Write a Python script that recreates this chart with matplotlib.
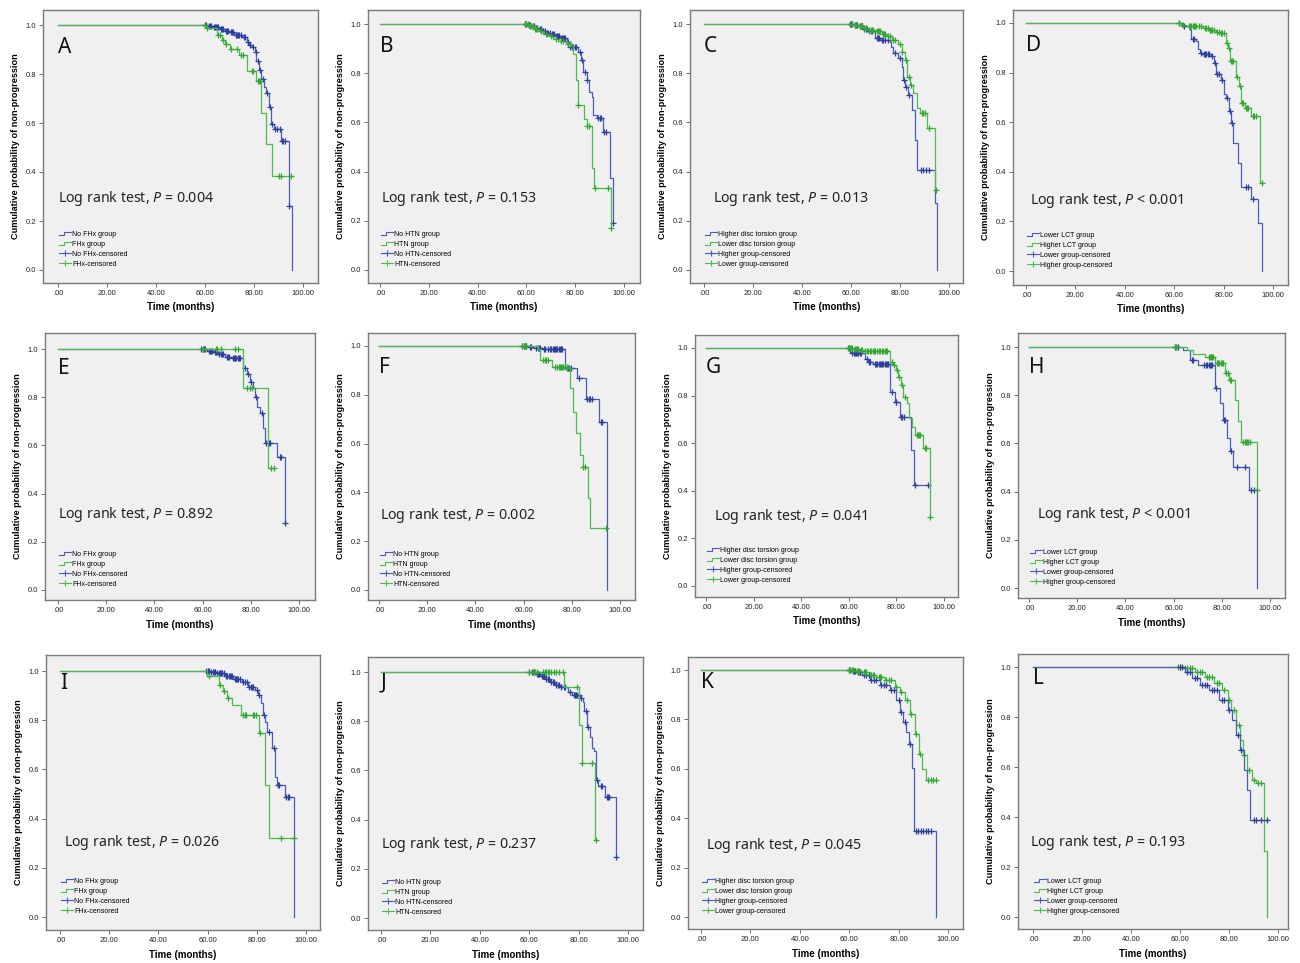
import numpy as np
import matplotlib
matplotlib.use("Agg")
import matplotlib.pyplot as plt
from matplotlib.lines import Line2D
from matplotlib.legend_handler import HandlerBase

plt.rcParams['font.family'] = ['Liberation Sans', 'DejaVu Sans']
plt.rcParams['mathtext.fontset'] = 'custom'
plt.rcParams['mathtext.it'] = 'Noto Sans:italic'

# ---- data: event times / survival after each drop / censor times ----
# A  (family history)
A_blue_t = [61, 63, 66, 68, 70, 72, 75, 77, 78, 79, 80.3, 81, 82, 83, 84, 85, 86.1, 87, 88, 91, 94.3, 95.6]
A_blue_s = [0.995, 0.99, 0.985, 0.975, 0.97, 0.96, 0.95, 0.93, 0.92, 0.91, 0.888, 0.855, 0.818, 0.78, 0.748,
            0.724, 0.664, 0.596, 0.575, 0.528, 0.263, 0.0]
A_blue_c = [60, 60.5, 61.5, 62, 62.5, 63.5, 64, 64.5, 65, 65.5, 66.5, 67, 67.5, 68.5, 69, 69.5, 70.5, 71, 71.5,
            72.5, 73, 73.5, 74, 74.5, 76, 76.5, 77.5, 78.5, 79.5, 80.8, 81.5, 82.5, 83.5, 85.5, 86.5, 87.5, 88.5,
            89.5, 90.5, 91.5, 92, 92.5, 94.3]
A_green_t = [60.5, 65, 67, 68, 70, 74, 77, 81, 83, 85, 87.3]
A_green_s = [0.989, 0.959, 0.94, 0.922, 0.902, 0.878, 0.814, 0.773, 0.641, 0.514, 0.385]
A_green_c = [60, 61, 65.5, 66, 67.5, 68.5, 70.5, 73, 74.5, 75.5, 79, 79.5, 81.5, 82, 82.5, 90, 91, 95]

# B  (hypertension)
B_blue_t = [60.5, 62, 63.5, 65, 66.5, 68, 70, 72, 74, 76.5, 77.9, 81.3, 82.2, 83.3, 84.7, 85.7, 86.7, 87.4,
            88.8, 91.5, 94.3, 95.4]
B_blue_s = [0.995, 0.99, 0.985, 0.978, 0.972, 0.965, 0.96, 0.953, 0.945, 0.928, 0.908, 0.887, 0.854, 0.806,
            0.772, 0.725, 0.702, 0.63, 0.617, 0.562, 0.373, 0.19]
B_blue_c = [59.5, 60, 61, 61.5, 62.5, 63, 64, 64.5, 65.5, 66, 67, 67.5, 68.5, 69, 69.5, 70.5, 71, 71.5, 72.5,
            73, 73.5, 74.5, 75, 75.5, 76, 77, 78, 78.5, 79, 80, 80.5, 81.8, 82.7, 84, 85, 89.5, 90, 90.5, 92,
            92.5, 95.4]
B_green_t = [61, 63, 65, 67, 69, 71, 73, 76.5, 79.2, 80.3, 81.3, 83.7, 84.7, 86.7, 87.7, 94.5]
B_green_s = [0.99, 0.98, 0.97, 0.96, 0.95, 0.94, 0.93, 0.92, 0.88, 0.772, 0.67, 0.615, 0.585, 0.413, 0.332, 0.17]
B_green_c = [59.5, 60, 60.5, 61.5, 62, 62.5, 63.5, 64, 64.5, 66, 68, 70, 72, 74, 75, 77, 78, 81.3, 85, 85.5,
             88, 93.5, 94.5]

# C  (disc torsion)
C_blue_t = [61, 63, 65, 67, 69.8, 72, 75.9, 76.5, 77.3, 79.3, 80.7, 81.2, 82, 83.4, 84.8, 86.1, 87.1, 94.3, 95.2]
C_blue_s = [0.995, 0.99, 0.98, 0.97, 0.942, 0.935, 0.928, 0.908, 0.881, 0.86, 0.827, 0.772, 0.745, 0.711, 0.65,
            0.528, 0.406, 0.274, 0.0]
C_blue_c = [59.5, 60, 60.5, 61.5, 62, 62.5, 63.5, 64, 64.5, 65.5, 66, 66.5, 67.5, 68, 68.5, 70.5, 71, 71.5, 72.5,
            73, 74, 75, 77.8, 79.8, 81.5, 82.5, 83.8, 88.5, 89.5, 90.5, 92]
C_green_t = [61, 63, 65, 67, 70, 72.5, 74.6, 76.6, 79.3, 80.7, 82, 83, 84.1, 85.4, 86.8, 88.2, 90.9, 94.3]
C_green_s = [0.995, 0.99, 0.985, 0.975, 0.97, 0.96, 0.95, 0.935, 0.92, 0.888, 0.854, 0.786, 0.752, 0.718, 0.657,
             0.637, 0.576, 0.325]
C_green_c = [60, 60.5, 61.5, 62, 63.5, 64, 64.5, 65.5, 66, 67.5, 68, 68.5, 69, 70.5, 71, 71.5, 72, 73, 73.5, 74,
             75, 76, 77, 78, 79.8, 81, 82.5, 83.5, 84.5, 89, 89.5, 90, 92, 94.5]

# D  (LCT)
D_blue_t = [63.2, 66.2, 66.9, 69, 69.6, 70.3, 71.5, 75, 76, 77, 79, 80, 81, 82, 83, 84, 86, 87.2, 91.2, 93.9, 95.7]
D_blue_s = [0.989, 0.97, 0.935, 0.926, 0.895, 0.879, 0.875, 0.865, 0.838, 0.795, 0.771, 0.713, 0.697, 0.646,
            0.598, 0.515, 0.434, 0.34, 0.29, 0.195, 0.0]
D_blue_c = [62, 64, 67.5, 68, 70.8, 72, 72.5, 73, 73.5, 74, 75.5, 76.5, 77.5, 78, 79.5, 81.5, 82.5, 83.5, 89, 90, 92]
D_green_t = [62.8, 64.9, 71.6, 74, 77, 78.5, 81, 81.8, 82.7, 85.1, 86.2, 87.2, 88.5, 91.2, 94.6]
D_green_s = [0.993, 0.987, 0.98, 0.973, 0.965, 0.96, 0.92, 0.9, 0.845, 0.784, 0.747, 0.677, 0.656, 0.623, 0.356]
D_green_c = [62, 63.5, 66, 66.5, 67, 67.5, 68, 68.5, 69, 70, 71, 72.5, 73, 73.5, 74.5, 75, 75.5, 76, 77.5, 78, 79,
             79.5, 80, 81.3, 82, 83, 83.5, 84, 85.5, 86.5, 87.5, 88, 89, 89.5, 90, 92, 92.5, 93, 95.5]

# E
E_blue_t = [62, 64.5, 66.5, 69.3, 72.1, 76.9, 78.6, 79.7, 81, 81.7, 82.7, 83.8, 85.2, 85.9, 91, 94.2]
E_blue_s = [0.993, 0.989, 0.978, 0.968, 0.961, 0.92, 0.895, 0.864, 0.837, 0.802, 0.761, 0.733, 0.673, 0.609,
            0.553, 0.277]
E_blue_c = [59.5, 60, 60.5, 61, 62.5, 63, 63.5, 64, 65, 65.5, 66, 67, 67.5, 68, 68.5, 70, 70.5, 71, 72.5, 73,
            73.5, 74, 74.5, 75, 75.5, 77.5, 79, 80.2, 82, 84.5, 86.5, 87.5, 88, 92, 92.5, 94.2]
E_green_t = [76.9, 87.3]
E_green_s = [0.839, 0.505]
E_green_c = [60, 61, 65.5, 66, 67.5, 73.5, 74.5, 78.5, 79.5, 80.5, 88.5, 89.5]

# F
F_blue_t = [62, 64, 68.2, 77.2, 82.3, 85.8, 91.3, 94.5]
F_blue_s = [0.995, 0.99, 0.986, 0.909, 0.868, 0.781, 0.69, 0.0]
F_blue_c = [59.5, 60, 60.5, 61, 62.5, 63, 65, 66, 66.5, 67, 68.5, 69, 70, 71, 71.5, 72, 72.5, 73, 73.5, 74, 74.5,
            75, 75.5, 76, 78, 78.5, 79, 79.5, 83, 86.5, 87, 87.5, 88.5, 92, 92.5]
F_green_t = [66.1, 66.8, 71.7, 78.6, 79.3, 80.4, 81.7, 83.4, 84.5, 86.6, 87.6]
F_green_s = [0.986, 0.943, 0.915, 0.909, 0.827, 0.731, 0.642, 0.553, 0.505, 0.378, 0.255]
F_green_c = [59.5, 60, 60.5, 61, 68, 69, 69.5, 70, 73, 74, 74.5, 75, 75.5, 76, 76.5, 77, 78, 79, 84.8, 85.5, 94.3]

# G
G_blue_t = [60.5, 61.2, 66.8, 68.2, 70.3, 77.3, 79.4, 81.5, 86.1, 87.4]
G_blue_s = [0.984, 0.977, 0.954, 0.943, 0.931, 0.816, 0.774, 0.711, 0.571, 0.424]
G_blue_c = [60, 61.5, 62, 62.5, 63, 63.5, 64, 64.5, 65, 67.5, 68.5, 69, 71, 71.5, 72, 72.5, 73, 73.5, 74, 74.5,
            75, 75.5, 76, 76.5, 78, 79.8, 80, 82, 82.5, 83, 88, 93.4]
G_green_t = [62, 64.7, 66.1, 77.3, 78.7, 79.8, 80.8, 81.8, 82.9, 84.3, 85.4, 86.4, 87.8, 91.3, 94.1]
G_green_s = [0.997, 0.993, 0.987, 0.943, 0.929, 0.908, 0.879, 0.845, 0.795, 0.768, 0.707, 0.669, 0.634, 0.578, 0.291]
G_green_c = [59.5, 60, 60.5, 61, 61.5, 62.5, 63, 63.5, 64, 65, 65.5, 67, 67.5, 68, 69, 69.5, 70, 70.5, 71, 72,
             72.5, 73, 74, 74.5, 75, 75.5, 76, 78, 79, 80.3, 81.3, 82.3, 83.5, 88.5, 89, 89.5, 90, 92, 92.5, 94.1]

# H
H_blue_t = [64, 66.8, 70.3, 77.2, 79.3, 80.4, 82.3, 83.4, 84.5, 91.4, 94.5]
H_blue_s = [0.988, 0.946, 0.925, 0.829, 0.766, 0.697, 0.621, 0.568, 0.503, 0.407, 0.0]
H_blue_c = [60.5, 61, 62, 67.5, 68, 72.5, 73.5, 74, 74.5, 75, 75.5, 76, 77.5, 80.8, 81.2, 83.8, 86.5, 89.5, 92.2, 93.2]
H_green_t = [65.4, 68.2, 73, 77.2, 81.3, 83.1, 85.5, 86.9, 87.8, 94.5]
H_green_s = [0.988, 0.97, 0.958, 0.932, 0.891, 0.863, 0.78, 0.693, 0.607, 0.407]
H_green_c = [60.5, 61, 74.5, 75, 75.5, 76, 76.5, 78, 78.5, 79, 79.5, 80, 80.5, 81.8, 82.5, 83.5, 84, 89, 89.5, 90,
             90.5, 91, 91.5, 94.5]

# I
I_blue_t = [61, 63.7, 67.1, 70.5, 73.8, 76.5, 79.3, 80.6, 81.6, 82.4, 83.3, 84.3, 86, 87.4, 88.1, 91.5, 95.3]
I_blue_s = [0.997, 0.993, 0.98, 0.967, 0.957, 0.936, 0.922, 0.902, 0.869, 0.821, 0.794, 0.753, 0.686, 0.57,
            0.537, 0.489, 0.0]
I_blue_c = [59.5, 60, 60.5, 61.5, 62, 62.5, 63, 64, 64.5, 65, 65.5, 66, 66.5, 67.5, 68, 68.5, 69, 69.5, 70, 71,
            71.5, 72, 72.5, 73, 74.5, 75, 76, 77, 77.5, 78, 78.5, 80, 81, 83, 84.8, 87, 88.5, 89, 92, 92.5, 93]
I_green_t = [59.9, 64.8, 66.4, 68, 69.8, 73.4, 81, 83.3, 85.1]
I_green_s = [0.98, 0.943, 0.919, 0.892, 0.862, 0.821, 0.747, 0.537, 0.322]
I_green_c = [60.5, 65, 66.8, 68.3, 74.5, 75, 75.5, 78.5, 79, 79.5, 81.2, 90, 95.3]

# J
J_blue_t = [62.3, 64.4, 66.4, 68.4, 70.4, 72.5, 75.8, 77.2, 80.6, 81.7, 82.2, 83.3, 84.6, 85.3, 86.2, 87, 88,
            90.7, 95.1]
J_blue_s = [0.991, 0.982, 0.971, 0.96, 0.947, 0.94, 0.92, 0.906, 0.893, 0.879, 0.841, 0.778, 0.737, 0.69, 0.677,
            0.561, 0.538, 0.493, 0.249]
J_blue_c = [60, 61, 62, 63, 63.5, 64, 65, 65.5, 66, 67, 67.5, 68, 69, 69.5, 70, 71, 71.5, 72, 73, 74, 74.5, 76.5,
            78, 78.5, 79, 79.5, 80, 81, 83, 84, 87.5, 89, 89.5, 91.5, 92, 92.5, 95.1]
J_green_t = [74.1, 80.3, 81.2, 86.5]
J_green_s = [0.94, 0.785, 0.629, 0.317]
J_green_c = [60, 61.5, 62, 62.5, 63, 65.5, 66.5, 67, 67.5, 68, 69, 70, 71, 72, 73.5, 79.5, 81.2, 85.3, 87]

# K
K_blue_t = [61, 63, 65, 68.4, 72.5, 76.5, 79, 80.6, 81.8, 83, 84.2, 85.4, 86.2, 95.1]
K_blue_s = [0.995, 0.99, 0.98, 0.96, 0.94, 0.92, 0.88, 0.83, 0.79, 0.75, 0.70, 0.605, 0.35, 0.0]
K_blue_c = [60, 60.5, 61.5, 62, 62.5, 63.5, 64, 64.5, 66, 67, 68, 69, 70, 71, 73, 74, 75, 77, 78, 80, 81, 82.5,
            84.5, 87, 88, 89, 90, 91, 92, 93]
K_green_t = [62, 65, 68.4, 71, 74.5, 78.5, 80.5, 82.6, 84.6, 86.6, 88.3, 89.5, 91]
K_green_s = [0.995, 0.99, 0.98, 0.97, 0.96, 0.93, 0.91, 0.88, 0.82, 0.74, 0.66, 0.6, 0.555]
K_green_c = [60, 60.5, 61, 61.5, 63, 63.5, 64, 66, 66.5, 67, 69, 69.5, 70, 72, 72.5, 73, 75, 76, 77, 79, 81, 83.5,
             85, 87, 88.8, 92, 93, 94, 95]

# L
L_blue_t = [62, 65, 68, 72, 76, 79.6, 81.2, 82.9, 84.5, 86, 87.3, 88.6]
L_blue_s = [0.98, 0.955, 0.93, 0.91, 0.87, 0.83, 0.79, 0.73, 0.67, 0.59, 0.51, 0.39]
L_blue_c = [60, 61, 63, 64, 66, 67, 69, 70, 71, 73, 74, 75, 77, 78, 80, 83.5, 85, 90, 91, 93, 95.5]
L_green_t = [61, 66, 70, 74, 77, 79.5, 81, 82.9, 84.5, 85.7, 87.3, 89.4, 91, 94.3, 95.5]
L_green_s = [0.995, 0.98, 0.96, 0.935, 0.91, 0.87, 0.83, 0.77, 0.71, 0.65, 0.59, 0.55, 0.535, 0.265, 0.0]
L_green_c = [59, 60, 62, 63, 64, 65, 67, 68, 69, 71, 72, 73, 75, 76, 78, 80, 82, 84, 86, 88, 90, 92, 93]

p_values = ["= 0.004", "= 0.153", "= 0.013", "< 0.001", "= 0.892", "= 0.002",
            "= 0.041", "< 0.001", "= 0.026", "= 0.237", "= 0.045", "= 0.193"]

labels_fhx = ["No FHx group", "FHx group", "No FHx-censored", "FHx-censored"]
labels_htn = ["No HTN group", "HTN group", "No HTN-censored", "HTN-censored"]
labels_disc = ["Higher disc torsion group", "Lower disc torsion group", "Higher group-censored", "Lower group-censored"]
labels_lct = ["Lower LCT group", "Higher LCT group", "Lower group-censored", "Higher group-censored"]

x_ticks = [0, 20, 40, 60, 80, 100]
x_tick_labels = [".00", "20.00", "40.00", "60.00", "80.00", "100.00"]
y_ticks = [0, 0.2, 0.4, 0.6, 0.8, 1.0]
y_tick_labels = ["0.0", "0.2", "0.4", "0.6", "0.8", "1.0"]

# ---- layout (pixel boxes and calibration) ----
W, H = 1300, 963
# letter, box(l, t, r, b), calib(x0px, x100px, y1px, y0px), text pos (t, s), letter y, data, labels
panels = [
    ("A", (43, 10, 318, 283), (58, 303, 25, 270), (0.0, 0.29), 0.91, "A", labels_fhx),
    ("B", (368, 10, 640, 283), (380, 624, 24, 270), (0.5, 0.29), 0.907, "B", labels_htn),
    ("C", (690, 10, 963, 283), (704, 949, 24, 270), (3.7, 0.29), 0.907, "C", labels_disc),
    ("D", (1013, 10, 1288, 285), (1026, 1273, 23, 271), (1.6, 0.285), 0.91, "D", labels_lct),
    ("E", (45, 333, 315, 600), (58, 299, 349, 590), (0.0, 0.315), 0.92, "E", labels_fhx),
    ("F", (368, 333, 635, 600), (379, 620, 346, 590), (0.4, 0.307), 0.91, "F", labels_htn),
    ("G", (695, 335, 958, 597), (706, 944, 348, 586), (3.4, 0.294), 0.916, "G", labels_disc),
    ("H", (1018, 333, 1285, 598), (1029, 1270, 347, 588), (3.3, 0.303), 0.913, "H", labels_lct),
    ("I", (46, 655, 320, 930), (60, 306, 671, 917), (1.6, 0.301), 0.95, "I", labels_fhx),
    ("J", (368, 657, 643, 930), (381, 628, 672, 918), (0.0, 0.297), 0.955, "J", labels_htn),
    ("K", (688, 657, 963, 929), (701, 948, 670, 917), (2.0, 0.29), 0.95, "K", labels_disc),
    ("L", (1018, 654, 1288, 929), (1033, 1278, 667, 917), (-1.2, 0.30), 0.955, "L", labels_lct),
]

BLUE = "#4a5cb8"
BLUE_DARK = "#2f3f9c"
GREEN = "#4dbb4d"
GREEN_DARK = "#33a833"
TXT_FONT = ["Noto Sans", "DejaVu Sans"]


class StepHandler(HandlerBase):
    def create_artists(self, legend, orig, xd, yd, w, h, fontsize, trans):
        x0 = -xd
        x1 = -xd + w
        ylo = -yd + 0.1 * h
        yhi = -yd + 0.8 * h
        ln = Line2D([x0, x0 + 0.4 * w, x0 + 0.4 * w, x1], [ylo, ylo, yhi, yhi],
                    color=orig.get_color(), lw=0.8)
        ln.set_transform(trans)
        return [ln]


def draw_curve(ax, t, s, c, color, mcolor, z):
    t = np.asarray(t, float)
    s = np.asarray(s, float)
    c = np.asarray(c, float)
    end = max(t.max(), c.max() if len(c) else 0)
    tt = np.concatenate([[0], t, [end]])
    ss = np.concatenate([[1.0], s, [s[-1]]])
    ax.step(tt, ss, where="post", color=color, lw=0.9, zorder=z)
    idx = np.searchsorted(t, c, side="right")
    cs = np.where(idx > 0, s[np.maximum(idx - 1, 0)], 1.0)
    ax.plot(c, cs, ls="none", marker="+", ms=4.5, mew=0.9, color=mcolor, zorder=z + 0.5)


fig = plt.figure(figsize=(W / 100, H / 100), dpi=100)
fig.patch.set_facecolor("white")

g = globals()
for i, (letter, box, cal, tpos, ly, key, labels) in enumerate(panels):
    l, t_, r, b = box
    x0, x100, y1, y0 = cal
    ax = fig.add_axes([l / W, 1 - b / H, (r - l) / W, (b - t_) / H])
    ax.set_facecolor("#f0f0f0")
    pxx = (x100 - x0) / 100.0
    pxy = (y0 - y1)
    ax.set_xlim((l - x0) / pxx, (r - x0) / pxx)
    ax.set_ylim((y0 - b) / pxy, (y0 - t_) / pxy)

    bz, gz = (2, 3) if key != "L" else (3, 2)
    draw_curve(ax, g[key + "_blue_t"], g[key + "_blue_s"], g[key + "_blue_c"], BLUE, BLUE_DARK, bz)
    draw_curve(ax, g[key + "_green_t"], g[key + "_green_s"], g[key + "_green_c"], GREEN, GREEN_DARK, gz)

    for sp in ax.spines.values():
        sp.set_color("#7a7a7a")
        sp.set_linewidth(1.0)
    ax.set_xticks(x_ticks)
    ax.set_xticklabels(x_tick_labels)
    ax.set_yticks(y_ticks)
    ax.set_yticklabels(y_tick_labels)
    ax.tick_params(direction="out", length=3, width=0.6, color="#555555",
                   labelsize=5.5, pad=2, labelcolor="#222222")
    ax.set_xlabel("Time (months)", fontsize=7, fontweight="bold", labelpad=4)
    ax.set_ylabel("Cumulative probability of non-progression", fontsize=6.6, fontweight="bold", labelpad=4)

    ax.text(tpos[0], tpos[1], r"Log rank test, $P$ " + p_values[i], fontsize=10.2,
            va="center", ha="left", family=TXT_FONT, color="#222222")
    ax.text(0.0, ly, letter, fontsize=15, va="center", ha="left",
            family=TXT_FONT, color="#111111")

    hb = Line2D([], [], color=BLUE, lw=0.8)
    hg = Line2D([], [], color=GREEN, lw=0.8)
    hbc = Line2D([], [], color=BLUE, lw=0.8, marker="+", ms=4, mew=0.8)
    hgc = Line2D([], [], color=GREEN, lw=0.8, marker="+", ms=4, mew=0.8)
    ax.legend([hb, hg, hbc, hgc], labels, loc="lower left", bbox_to_anchor=(0.5, 0.01),
              bbox_transform=ax.transData, frameon=False, fontsize=5, handlelength=1.7,
              handletextpad=0.15, labelspacing=0.42, borderpad=0, borderaxespad=0, numpoints=1,
              handler_map={hb: StepHandler(), hg: StepHandler()})

fig.savefig("out.png", dpi=100, facecolor="white")
